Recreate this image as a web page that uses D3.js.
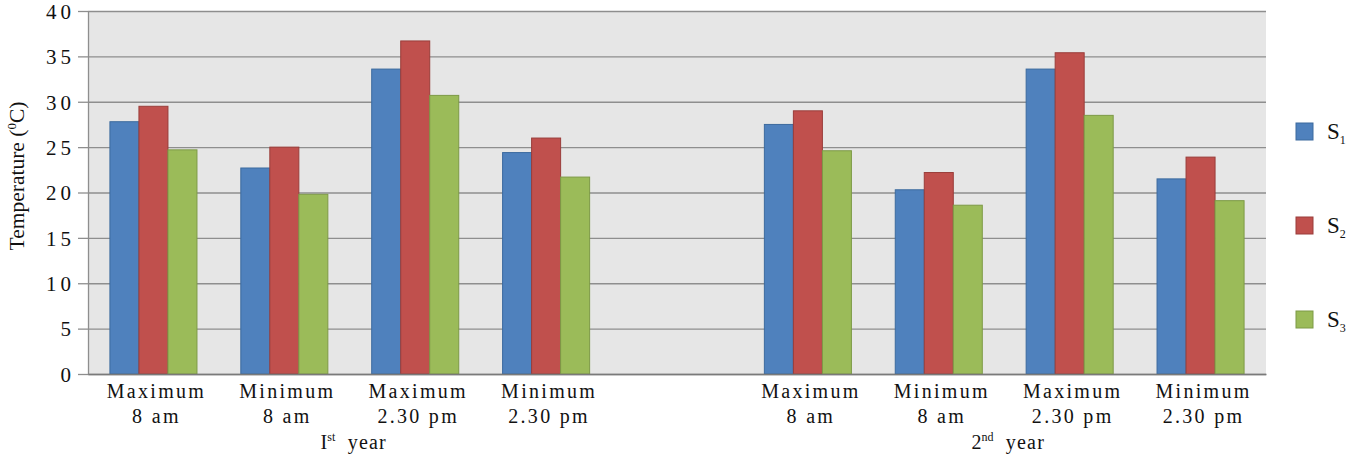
<!DOCTYPE html>
<html>
<head>
<meta charset="utf-8">
<script src="https://cdn.jsdelivr.net/npm/d3@7"></script>
<style>
  html, body { margin: 0; padding: 0; background: #fff; }
  svg text { font-family: "Liberation Serif", "Times New Roman", serif; fill: #111; }
</style>
</head>
<body>
<svg id="chart" width="1356" height="463"></svg>
<script>
// ---- data ----
const categories = ["Maximum|8 am", "Minimum|8 am", "Maximum|2.30 pm", "Minimum|2.30 pm", "",
                    "Maximum|8 am", "Minimum|8 am", "Maximum|2.30 pm", "Minimum|2.30 pm"];
const seriesNames = ["S1", "S2", "S3"];
const s1 = [27.8, 22.7, 33.6, 24.4, null, 27.5, 20.3, 33.6, 21.5];
const s2 = [29.5, 25.0, 36.7, 26.0, null, 29.0, 22.2, 35.4, 23.9];
const s3 = [24.7, 19.8, 30.7, 21.7, null, 24.6, 18.6, 28.5, 19.1];
const yTicks = [0, 5, 10, 15, 20, 25, 30, 35, 40];
const yearLabels = [{ base: "I", sup: "st", from: 0, to: 3 }, { base: "2", sup: "nd", from: 5, to: 8 }];
const fills = ["#4f81bd", "#c0504d", "#9bbb59"];
const strokes = ["#3c6a9e", "#9a3d3a", "#7d9a46"];

const svg = d3.select("#chart");
const m = { left: 88, right: 1266, top: 11, bottom: 374 };

const ids = categories.map((c, i) => "c" + i);
const x = d3.scaleBand().domain(ids).range([m.left, m.right]).paddingInner(0.335).paddingOuter(0.1675);
const xs = d3.scaleBand().domain(seriesNames).range([0, x.bandwidth()]);
const y = d3.scaleLinear().domain([0, 40]).range([m.bottom, m.top]);

// plot background
svg.append("rect").attr("x", m.left).attr("y", m.top)
  .attr("width", m.right - m.left).attr("height", m.bottom - m.top).attr("fill", "#e6e6e6");

// gridlines
const grid = svg.append("g").attr("transform", `translate(${m.left},0)`)
  .call(d3.axisLeft(y).tickValues(yTicks).tickSize(-(m.right - m.left)).tickFormat(""));
grid.select(".domain").remove();
grid.selectAll("line").attr("stroke", "#8e8e8e").attr("stroke-width", 1.3);

// y axis
const ya = svg.append("g").attr("transform", `translate(${m.left},0)`)
  .call(d3.axisLeft(y).tickValues(yTicks).tickSize(10).tickPadding(3).tickSizeOuter(0));
ya.attr("font-family", null).attr("font-size", null);
ya.select(".domain").attr("stroke", "#8e8e8e").attr("stroke-width", 1.3);
ya.selectAll("line").attr("stroke", "#8e8e8e").attr("stroke-width", 1.3);
ya.selectAll("text").style("font-size", "21px").style("letter-spacing", "4px")
  .attr("dy", "0.35em").attr("fill", "#111");

// bars
const seriesVals = [s1, s2, s3];
seriesVals.forEach((vals, si) => {
  svg.append("g").selectAll("rect")
    .data(vals.map((v, i) => ({ v, i })).filter(d => d.v != null))
    .join("rect")
    .attr("x", d => x(ids[d.i]) + xs(seriesNames[si]))
    .attr("width", xs.bandwidth())
    .attr("y", d => y(d.v))
    .attr("height", d => y(0) - y(d.v))
    .attr("fill", fills[si])
    .attr("stroke", strokes[si])
    .attr("stroke-width", 1);
});

// x axis baseline
const xa = svg.append("g").attr("transform", `translate(0,${m.bottom})`)
  .call(d3.axisBottom(x).tickSize(0).tickFormat(""));
xa.select(".domain").attr("stroke", "#7a7a7a").attr("stroke-width", 1.5);

// x tick labels (two lines)
const xl = svg.append("g");
categories.forEach((c, i) => {
  if (!c) return;
  const parts = c.split("|");
  const cx = x(ids[i]) + x.bandwidth() / 2 + 3;
  parts.forEach((p, k) => {
    xl.append("text").attr("x", cx).attr("y", 398 + k * 25)
      .attr("text-anchor", "middle").style("font-size", "20px").style("letter-spacing", "2.3px")
      .text(p);
  });
});

// year labels
yearLabels.forEach(yl => {
  const cx = (x(ids[yl.from]) + x(ids[yl.to]) + x.bandwidth()) / 2 + 4;
  const t = svg.append("text").attr("x", cx).attr("y", 449).attr("text-anchor", "middle")
    .style("font-size", "20px").attr("xml:space", "preserve");
  t.append("tspan").text(yl.base);
  t.append("tspan").attr("dy", -8).style("font-size", "12px").text(yl.sup);
  t.append("tspan").attr("dy", 8).style("letter-spacing", "1.2px").text("  year");
});

// y title
const yt = svg.append("text").attr("transform", "translate(24,176) rotate(-90)")
  .attr("text-anchor", "middle").style("font-size", "21.5px");
yt.append("tspan").text("Temperature (");
yt.append("tspan").attr("dy", -8).style("font-size", "13px").text("0");
yt.append("tspan").attr("dy", 8).text("C)");

// legend
const legY = [131, 225, 319];
seriesNames.forEach((s, i) => {
  const g = svg.append("g");
  g.append("rect").attr("x", 1296).attr("y", legY[i] - 8).attr("width", 17).attr("height", 17)
    .attr("fill", fills[i]).attr("stroke", strokes[i]).attr("stroke-width", 1);
  const t = g.append("text").attr("x", 1327).attr("y", legY[i] + 8).style("font-size", "23px");
  t.append("tspan").text(s.charAt(0));
  t.append("tspan").attr("dy", 5).style("font-size", "12px").text(s.slice(1));
});
</script>
</body>
</html>
